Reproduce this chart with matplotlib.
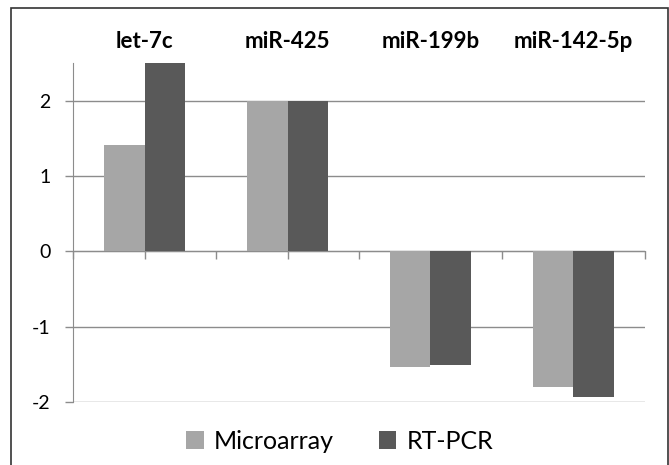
import numpy as np
import matplotlib.pyplot as plt
from matplotlib.patches import Rectangle
from matplotlib.transforms import blended_transform_factory

categories = ["let-7c", "miR-425", "miR-199b", "miR-142-5p"]
microarray = [1.41, 2.0, -1.53, -1.80]
rt_pcr = [2.5, 2.0, -1.51, -1.93]
y_ticks = [-2, -1, 0, 1, 2]

plt.rcParams['font.family'] = ['Lato', 'DejaVu Sans']

fig = plt.figure(figsize=(6.69, 4.65), dpi=100)
ax = fig.add_axes([73 / 669, 1 - 402 / 465, (645 - 73) / 669, (402 - 63) / 465])

x = np.arange(len(categories))
w = 0.28
grid_c = '#8c8c8c'

for y in y_ticks:
    ax.axhline(y, color=grid_c, lw=1.0, zorder=1)

ax.bar(x - w / 2, microarray, w, color='#a6a6a6', label='Microarray', zorder=3)
ax.bar(x + w / 2, rt_pcr, w, color='#595959', label='RT-PCR', zorder=3)

ax.set_xlim(-0.5, 3.5)
ax.set_ylim(-2, 2.5)

# spines
for s in ['top', 'right']:
    ax.spines[s].set_visible(False)
ax.spines['left'].set_color(grid_c)
ax.spines['bottom'].set_position(('data', 0))
ax.spines['bottom'].set_color(grid_c)
ax.spines['bottom'].set_zorder(2)

ax.set_xticks(np.arange(-0.5, 3.6, 0.5))
ax.set_xticklabels([])
ax.tick_params(axis='x', direction='out', length=6, color=grid_c, width=1)
ax.set_yticks(y_ticks)
ax.set_yticklabels([str(v) for v in y_ticks], fontsize=14)
ax.tick_params(axis='y', direction='out', length=6, color=grid_c, width=1, pad=10)

# category labels on top
trans = blended_transform_factory(ax.transData, ax.transAxes)
for xi, c in zip(x, categories):
    ax.text(xi, 1.062, c, transform=trans, ha='center', va='center',
            fontsize=16, fontweight='bold')

fig.legend(loc='center', bbox_to_anchor=(0.508, 1 - 441 / 465), ncol=2,
           frameon=False, fontsize=18, handlelength=0.7, handleheight=0.7,
           handletextpad=0.4, columnspacing=1.8)

# figure border
fig.patches.append(Rectangle((11 / 669, -0.01), (668 - 11) / 669, 1 - 8 / 465 + 0.01,
                             transform=fig.transFigure, fill=False,
                             edgecolor='#333333', lw=1.2))

fig.savefig('out.png', dpi=100)
